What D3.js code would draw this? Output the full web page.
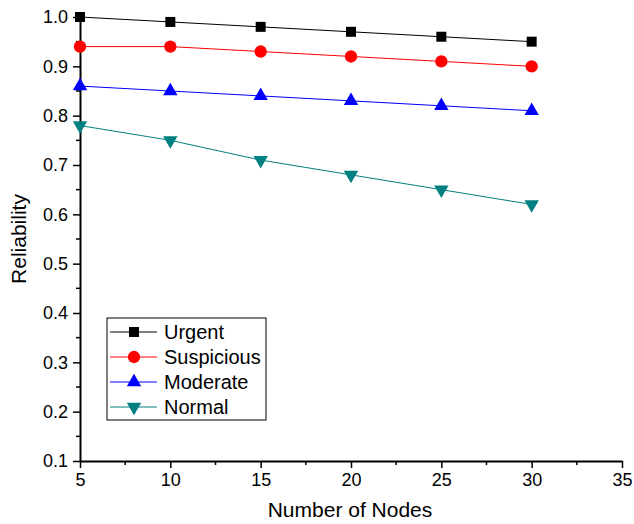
<!DOCTYPE html>
<meta charset="utf-8">
<style>
  body { margin: 0; background: #fff; }
  text { font-family: Arial, "Liberation Sans", sans-serif; fill: #000; }
  .axis text { font-size: 18px; }
  .axis path, .axis line { stroke: #000; }
</style>
<svg width="634" height="524"></svg>
<script src="https://d3js.org/d3.v7.min.js"></script>
<script>

var nodes = [5, 10, 15, 20, 25, 30];
var urgent = [1.00, 0.99, 0.98, 0.97, 0.96, 0.95];
var suspicious = [0.94, 0.94, 0.93, 0.92, 0.91, 0.90];
var moderate = [0.86, 0.85, 0.84, 0.83, 0.82, 0.81];
var normal = [0.78, 0.75, 0.71, 0.68, 0.65, 0.62];
var xTicks = [5, 10, 15, 20, 25, 30, 35];
var yTicks = [0.1, 0.2, 0.3, 0.4, 0.5, 0.6, 0.7, 0.8, 0.9, 1.0];

var series = [
  {name: "Urgent", values: urgent, color: "#000000", symbol: d3.symbolSquare, size: 100},
  {name: "Suspicious", values: suspicious, color: "#ff0000", symbol: d3.symbolCircle, size: 120},
  {name: "Moderate", values: moderate, color: "#0000ff", symbol: d3.symbolTriangle, size: 90, rot: 0},
  {name: "Normal", values: normal, color: "#008080", symbol: d3.symbolTriangle, size: 90, rot: 180}
];

var svg = d3.select("svg"),
  mLeft = 80, mRight = 622, mTop = 17, mBottom = 461;

var x = d3.scaleLinear().domain([5, 35]).range([mLeft, mRight]);
var y = d3.scaleLinear().domain([0.1, 1.0]).range([mBottom, mTop]);

// minor ticks
var xMinor = d3.range(7.5, 35, 5);
var yMinor = d3.range(0.15, 1.0, 0.1);

svg.append("g").selectAll("line").data(xMinor).enter().append("line")
  .attr("x1", d => x(d)).attr("x2", d => x(d))
  .attr("y1", mBottom).attr("y2", mBottom + 4)
  .attr("stroke", "#000").attr("stroke-width", 1.5);

svg.append("g").selectAll("line").data(yMinor).enter().append("line")
  .attr("y1", d => y(d)).attr("y2", d => y(d))
  .attr("x1", mLeft).attr("x2", mLeft - 4)
  .attr("stroke", "#000").attr("stroke-width", 1.5);

var xAxis = svg.append("g").attr("class", "axis")
  .attr("transform", "translate(0," + mBottom + ")")
  .call(d3.axisBottom(x).tickValues(xTicks).tickSize(7).tickPadding(5).tickSizeOuter(0));
xAxis.select(".domain").attr("stroke-width", 2);
xAxis.selectAll(".tick line").attr("stroke-width", 1.5);

var yAxis = svg.append("g").attr("class", "axis")
  .attr("transform", "translate(" + mLeft + ",0)")
  .call(d3.axisLeft(y).tickValues(yTicks).tickFormat(d3.format(".1f")).tickSize(7).tickPadding(5).tickSizeOuter(0));
yAxis.select(".domain").attr("stroke-width", 2);
yAxis.selectAll(".tick line").attr("stroke-width", 1.5);

var line = d3.line()
  .x(function(d, i) { return x(nodes[i]); })
  .y(function(d) { return y(d); });

series.forEach(function(s) {
  svg.append("path")
    .attr("d", line(s.values))
    .attr("fill", "none")
    .attr("stroke", s.color)
    .attr("stroke-width", 1);

  svg.append("g").selectAll("path").data(s.values).enter().append("path")
    .attr("d", d3.symbol().type(s.symbol).size(s.size))
    .attr("transform", function(d, i) {
      return "translate(" + x(nodes[i]) + "," + y(d) + ")" + (s.rot ? " rotate(" + s.rot + ")" : "");
    })
    .attr("fill", s.color);
});

// legend
var legend = svg.append("g");
legend.append("rect")
  .attr("x", 107).attr("y", 318).attr("width", 159).attr("height", 102)
  .attr("fill", "#fff").attr("stroke", "#000").attr("stroke-width", 1);

series.forEach(function(s, i) {
  var ly = 332 + i * 25;
  legend.append("line")
    .attr("x1", 110).attr("x2", 157).attr("y1", ly).attr("y2", ly)
    .attr("stroke", s.color).attr("stroke-width", 1);
  legend.append("path")
    .attr("d", d3.symbol().type(s.symbol).size(s.size))
    .attr("transform", "translate(134," + ly + ")" + (s.rot ? " rotate(" + s.rot + ")" : ""))
    .attr("fill", s.color);
  legend.append("text")
    .attr("x", 164).attr("y", ly).attr("dy", "0.35em")
    .style("font-size", "20px")
    .text(s.name);
});

svg.append("text")
  .attr("x", 350).attr("y", 517)
  .attr("text-anchor", "middle")
  .style("font-size", "21px")
  .text("Number of Nodes");

svg.append("text")
  .attr("transform", "translate(26," + ((mTop + mBottom) / 2) + ") rotate(-90)")
  .attr("text-anchor", "middle")
  .style("font-size", "21px")
  .text("Reliability");

</script>
